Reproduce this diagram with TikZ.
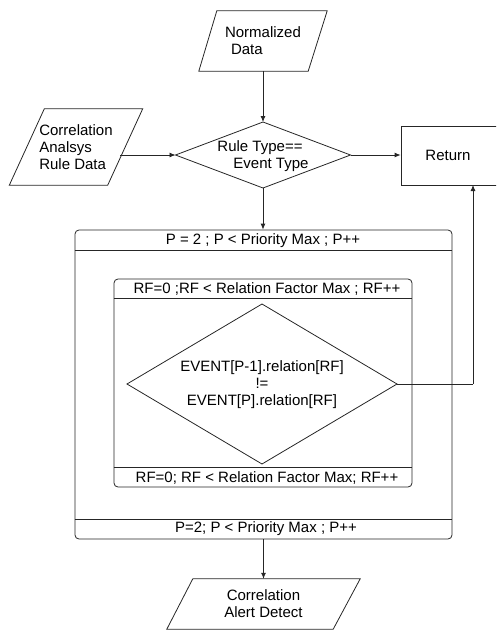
\documentclass[tikz,border=0pt]{standalone}
\usepackage{fontspec}
\setmainfont{Liberation Sans}
\usetikzlibrary{shapes.geometric,arrows.meta}
\begin{document}
\begin{tikzpicture}[x=1pt,y=-1pt,
  every node/.style={font=\fontsize{15}{17}\selectfont, inner sep=0pt},
  ln/.style={draw=black!85, line width=0.8pt},
  arr/.style={ln, -{Latex[length=6pt,width=5pt]}},
  dia/.style={diamond, ln, inner sep=0pt, outer sep=0pt},
  box/.style={ln, rectangle},
  loopbox/.style={ln, rectangle, rounded corners=4pt}]
\useasboundingbox (0,0) rectangle (496,630);
\clip (0,0) rectangle (496,630);

% input parallelograms
\node (norm) [minimum width=128pt, minimum height=60pt, align=left] at (263,41) {Normalized\\\hspace*{6pt}Data};
\draw[ln] ([xshift=18pt]norm.north west) -- (norm.north east) -- ([xshift=-19pt]norm.south east) -- (norm.south west) -- cycle;

\node (cor) [minimum width=133pt, minimum height=76pt, align=left] at (76,147) {Correlation\\Analsys\\Rule Data};
\draw[ln] ([xshift=35pt]cor.north west) -- (cor.north east) -- ([xshift=-35pt]cor.south east) -- (cor.south west) -- cycle;
\coordinate (corR) at (120,155);

% first decision
\node (d1) [dia, minimum width=175pt, minimum height=66pt] at (263,155) {};
\node (d1txt) [align=left] at (263,156) {Rule Type==\\\hspace*{16pt}Event Type};

% return box
\node (ret) [box, minimum width=99pt, minimum height=59pt] at (450.5,155.5) {};
\node (rettxt) at (448,155) {Return};
\coordinate (retin) at (473,185);

% loop boxes
\node (outer) [loopbox, minimum width=377pt, minimum height=309pt] at (263.5,384.5) {};
\draw[ln] ([yshift=-21pt]outer.north west) -- ([yshift=-21pt]outer.north east);
\draw[ln] ([yshift=20pt]outer.south west) -- ([yshift=20pt]outer.south east);
\node (hdrO) at (263,241) {P = 2 ; P < Priority Max ; P++};
\node (ftrO) at (266,529) {P=2; P < Priority Max ; P++};

\node (inner) [loopbox, minimum width=298pt, minimum height=208pt] at (263,383) {};
\draw[ln] ([yshift=-20pt]inner.north west) -- ([yshift=-20pt]inner.north east);
\draw[ln] ([yshift=20pt]inner.south west) -- ([yshift=20pt]inner.south east);
\node (hdrI) at (267,289) {RF=0 ;RF < Relation Factor Max ; RF++};
\node (ftrI) at (267,478) {RF=0; RF < Relation Factor Max; RF++};

% second decision
\node (d2) [dia, minimum width=270pt, minimum height=160pt] at (262,384) {};
\node (d2txt) [align=center] at (262,385)
  {EVENT[P-1].relation[RF]\\!=\hspace*{54pt}\\EVENT[P].relation[RF]};
\coordinate (turn) at (473,384);

% output
\node (alert) [minimum width=193pt, minimum height=50pt, align=center] at (263.5,604) {Correlation\\Alert Detect};
\draw[ln] ([xshift=26pt]alert.north west) -- (alert.north east) -- ([xshift=-27pt]alert.south east) -- (alert.south west) -- cycle;

% connectors
\draw[arr] (norm.south) -- (d1.north);
\draw[arr] (corR) -- (d1.west);
\draw[arr] (d1.east) -- (d1.east -| ret.west);
\draw[arr] (d1.south) -- (outer.north -| d1.south);
\draw[ln] (d2.east) -- (turn);
\draw[arr] (turn) -- (retin);
\draw[arr] (outer.south -| alert.north) -- (alert.north);
\end{tikzpicture}
\end{document}
